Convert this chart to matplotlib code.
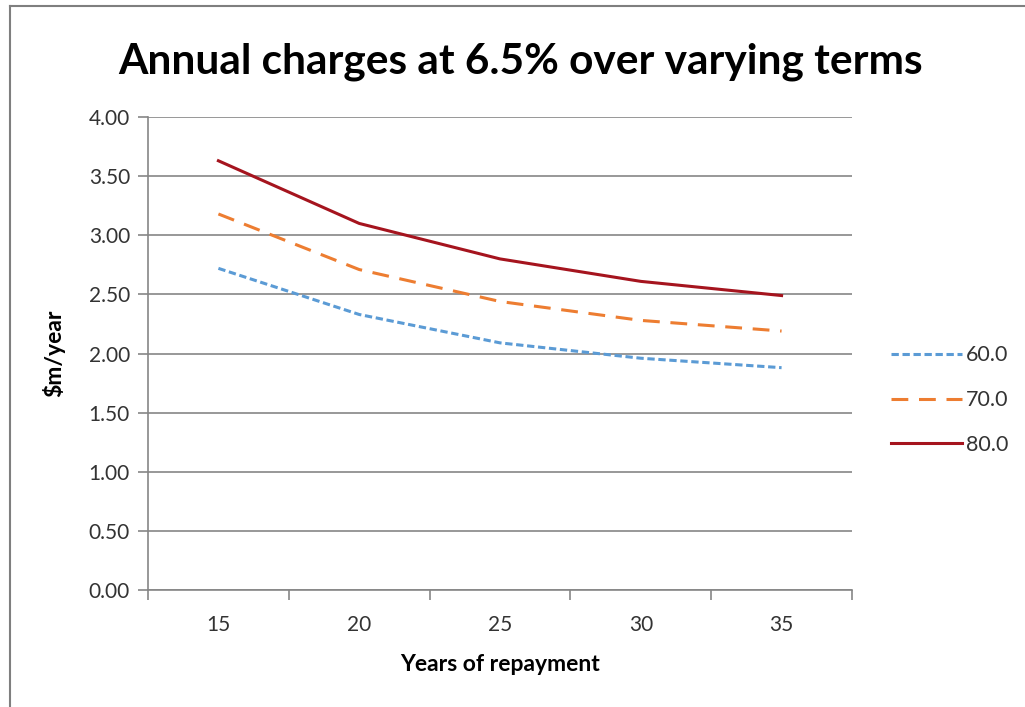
import matplotlib
matplotlib.use('Agg')
import matplotlib.pyplot as plt
from matplotlib.lines import Line2D

plt.rcParams['font.family'] = ['Lato', 'DejaVu Sans']

# data
years = ['15', '20', '25', '30', '35']
s60 = [2.72, 2.33, 2.09, 1.96, 1.88]
s70 = [3.18, 2.71, 2.44, 2.28, 2.19]
s80 = [3.63, 3.10, 2.80, 2.61, 2.49]
names = ['60.0', '70.0', '80.0']

grid_col = '#868686'

fig = plt.figure(figsize=(10.25, 7.07), dpi=100)
ax = fig.add_axes([0.1444, 0.1655, 0.8312 - 0.1444, 0.8345 - 0.1655])

x = list(range(len(years)))
ax.plot(x, s60, color='#5B9BD5', lw=2.2, linestyle=(0, (2.4, 1.2)), label=names[0])
ax.plot(x, s70, color='#ED7D31', lw=2.2, linestyle=(0, (5.5, 3.5)), label=names[1])
ax.plot(x, s80, color='#A5141E', lw=2.2, linestyle='-', label=names[2])

ax.set_xlim(-0.5, len(years) - 0.5)
ax.set_ylim(0, 4)
ax.set_yticks([i * 0.5 for i in range(9)])
ax.set_yticklabels(['%.2f' % (i * 0.5) for i in range(9)], fontsize=15, color='#333333')
ax.set_xticks(x)
ax.set_xticklabels(years, fontsize=15, color='#333333')
ax.tick_params(axis='x', which='major', length=0, pad=18)
ax.set_xticks([i - 0.5 for i in range(len(years) + 1)], minor=True)
ax.tick_params(axis='x', which='minor', length=7, color=grid_col, width=1.2, direction='out')
ax.tick_params(axis='y', length=7, color=grid_col, width=1.2, direction='out', pad=6)

ax.yaxis.grid(True, color=grid_col, lw=1.2)
ax.set_axisbelow(True)
for s in ['top', 'right']:
    ax.spines[s].set_visible(False)
for s in ['left', 'bottom']:
    ax.spines[s].set_color(grid_col)
    ax.spines[s].set_linewidth(1.2)

ax.set_xlabel('Years of repayment', fontsize=16.5, fontweight='bold', labelpad=14)
ax.set_ylabel('$m/year', fontsize=16.5, fontweight='bold', labelpad=17)

fig.text(0.508, 0.913, 'Annual charges at 6.5% over varying terms', fontsize=30.5,
         fontweight='bold', ha='center', va='center')

leg = fig.legend(loc='center left', bbox_to_anchor=(0.85, 0.434), frameon=False,
                 fontsize=15.5, handlelength=3.3, handletextpad=0.2, labelspacing=1.15)
for t in leg.get_texts():
    t.set_color('#333333')

# outer frame (left and top only visible)
fig.add_artist(Line2D([0.0095, 0.0095], [0, 0.992], transform=fig.transFigure,
                      color='#7f7f7f', lw=1.5))
fig.add_artist(Line2D([0.0095, 1], [0.992, 0.992], transform=fig.transFigure,
                      color='#7f7f7f', lw=1.5))

fig.savefig('out.png', dpi=100)
